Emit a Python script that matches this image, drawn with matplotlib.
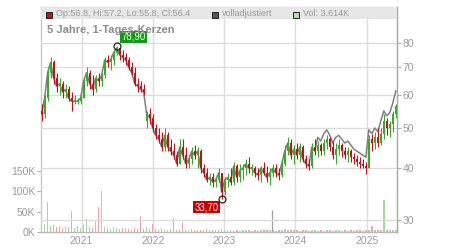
import matplotlib
matplotlib.use('Agg')
import matplotlib.pyplot as plt
import matplotlib.dates as mdates
from matplotlib.patches import Rectangle
from matplotlib.ticker import FixedLocator, FixedFormatter, NullLocator
import numpy as np
import pandas as pd

plt.rcParams['font.family'] = ['Liberation Sans', 'DejaVu Sans']

# ---------------- data ----------------
start_date = '2020-06-10'
end_date = '2025-05-30'
xlim_dates = ['2020-06-07', '2025-06-05']

opens = [55, 54, 59, 68, 72, 66, 63, 64, 61, 62,
         59, 58, 58, 58, 59, 65, 68, 64, 62, 66,
         65, 67, 73, 72, 73, 76, 78, 75, 74, 73,
         70, 68, 64, 63, 62, 52, 54, 53, 50, 48,
         47, 45, 48, 45, 44, 43, 41, 45, 43, 41,
         42, 44, 43, 44, 40, 39, 37.5, 38, 37, 37.5,
         39, 35, 37.5, 38, 37, 40.5, 38, 39.5, 40, 41,
         40, 40, 39, 38.5, 40, 39, 38, 39, 40, 39,
         38.5, 41, 44, 46, 43, 44.5, 43, 45, 42, 41,
         40.5, 45, 44, 45.5, 44, 46, 47, 45, 43, 44.5,
         45.5, 44, 43, 44, 42.5, 42, 41.5, 41, 40.5, 40,
         47, 46, 47.5, 46, 48.5, 52, 50, 51, 54]
closes = [54, 59, 68, 72, 66, 63, 64, 61, 62, 59,
          58, 58, 58, 59, 65, 68, 64, 62, 66, 65,
          67, 73, 72, 73, 76, 78, 75, 74, 73, 70,
          68, 64, 63, 62, 61, 54, 53, 50, 48, 47,
          45, 48, 45, 44, 43, 41, 45, 43, 41, 42,
          44, 43, 44, 40, 39, 37.5, 38, 37, 37.5, 39,
          35, 37.5, 38, 37, 40.5, 38, 39.5, 40, 41, 40,
          40, 39, 38.5, 40, 39, 38, 39, 40, 39, 38.5,
          41, 44, 46, 43, 44.5, 43, 45, 42, 41, 40.5,
          45, 44, 45.5, 44, 46, 47, 45, 43, 44.5, 45.5,
          44, 43, 44, 42.5, 42, 41.5, 41, 40.5, 40, 47,
          46, 47.5, 46, 48.5, 52, 50, 51, 54, 56.4]
highs = [57, 60, 70, 74, 73, 68, 66, 65, 64, 63,
         61, 60, 59, 60, 66, 70, 69, 67, 67, 68,
         68, 74, 75, 75, 77, 78.9, 78, 77, 76, 74,
         72, 70, 66, 65, 64, 55, 56, 54, 51, 50,
         49, 50, 49, 47, 46, 44, 47, 47, 45, 43,
         45, 45.5, 45, 44.5, 41, 40, 39, 39, 38, 40,
         39, 38, 39, 40, 41.5, 41, 41, 41, 42, 42.5,
         41, 40.5, 40, 40.5, 41.5, 40.5, 40, 41, 41, 40,
         42, 45.5, 47.5, 47, 45.5, 46, 46, 45.5, 43, 42,
         46, 47, 46.5, 46, 47, 48, 47.5, 46.5, 46, 47,
         46, 45, 45, 44.5, 43.5, 43, 42.5, 42, 41.5, 48,
         48.5, 49, 50, 50, 54, 53, 52, 55, 57.2]
lows = [52, 53, 58, 66, 64, 61, 60, 59, 59, 58,
        55, 57, 57, 57, 59, 63, 62, 60, 61, 63,
        63, 66, 70, 69, 71, 75, 73, 72, 71, 69,
        67, 63, 61, 61, 60, 50, 51, 49, 47, 46,
        44, 44, 44, 43, 42, 40.5, 41, 42, 40, 40,
        41, 42, 40, 39, 38, 37, 36.5, 36, 36, 37,
        33.7, 34.5, 36, 36.5, 36.5, 37, 37, 37.5, 38.5, 39,
        38.5, 38, 37.5, 37, 38.5, 37, 36.5, 38, 38, 37.5,
        38, 40.5, 43, 42, 41, 42, 41.5, 41.5, 40, 39.5,
        40, 43, 42.5, 43, 43, 44.5, 44, 42, 41, 43,
        42.5, 42, 41.5, 41.5, 41, 40.5, 40, 40, 38.7, 40,
        44, 44.5, 45, 45.5, 47, 48, 47.5, 49, 53]
# adjusted close ("volladjustiert"): same as close early, higher in the last part
adj_tail = [47.5, 46.5, 48.5, 49.5, 48, 46, 47.5, 48, 47, 46,
            46.5, 45.5, 44.5, 44, 43.5, 43, 42.5, 49.5, 48.5, 50,
            49, 52, 55, 53.5, 54.5, 57.5, 61.5]
volume_k = [12, 20, 75, 15, 18, 12, 14, 10, 16, 12,
            52, 10, 14, 9, 18, 32, 12, 10, 27, 62,
            100, 12, 10, 8, 12, 9, 8, 10, 7, 8,
            6, 9, 7, 40, 8, 12, 8, 20, 8, 6,
            9, 7, 5, 7, 35, 6, 8, 25, 6, 5,
            7, 6, 5, 6, 5, 7, 4, 6, 5, 4,
            8, 5, 4, 6, 5, 4, 3, 5, 4, 6,
            3, 4, 3, 4, 5, 4, 6, 4, 3, 5,
            4, 7, 5, 6, 4, 5, 3, 4, 5, 3,
            4, 5, 3, 4, 3, 5, 4, 3, 5, 4,
            3, 4, 3, 4, 3, 5, 4, 3, 6, 5,
            15, 6, 5, 4, 80, 6, 5, 4, 4]
event_date = '2023-09-05'
event_vol_k = 54

price_ticks = [30, 40, 50, 60, 70, 80]
vol_ticks = [0, 50, 100, 150]
vol_tick_labels = ['0K', '50K', '100K', '150K']
year_ticks = ['2021-01-01', '2022-01-01', '2023-01-01', '2024-01-01', '2025-01-01']
year_labels = ['2021', '2022', '2023', '2024', '2025']

title = '5 Jahre, 1-Tages-Kerzen'
legend_ohlc = 'Op:56.8, Hi:57.2, Lo:55.8, Cl:56.4'
legend_adj = 'volladjustiert'
legend_vol = 'Vol: 3.614K'

# ---------------- styling ----------------
GREEN = '#3aa82a'
RED = '#c01218'
VGREEN = '#a5d99c'
VRED = '#f2a3ab'
GRID = '#dcdcdc'
TXT = '#9a9a9a'

W, H = 450, 250
L, R, B, T = 41, 397, 232, 7

fig = plt.figure(figsize=(W / 100, H / 100), dpi=100)
ax_v = fig.add_axes([L / W, 1 - B / H, (R - L) / W, (B - T) / H])
ax_p = ax_v.twinx()

dates = pd.date_range(start_date, end_date, periods=len(closes))
x = mdates.date2num(dates)
o = np.array(opens, float)
c = np.array(closes, float)
hi = np.array(highs, float)
lo = np.array(lows, float)
up = c >= o
cols = np.where(up, GREEN, RED)
vcols = np.where(up, VGREEN, VRED)

# volume
ax_v.bar(x, volume_k, width=8, color=vcols, linewidth=0, zorder=2)
ev = mdates.date2num(pd.Timestamp(event_date))
ax_v.vlines([ev], 0, [event_vol_k], color='#a0a0a0', lw=0.9, zorder=2)
ax_v.set_ylim(0, (B - T) / (20.3 / 50))
ax_v.set_xlim(mdates.date2num(pd.to_datetime(xlim_dates)))
ax_v.yaxis.set_major_locator(FixedLocator(vol_ticks))
ax_v.yaxis.set_major_formatter(FixedFormatter(vol_tick_labels))
ax_v.set_xticks(mdates.date2num(pd.to_datetime(year_ticks)))
ax_v.set_xticklabels(year_labels)
ax_v.tick_params(axis='y', length=3, width=0.8, color='#b0b0b0', labelsize=7.5,
                 labelcolor=TXT, pad=1)
ax_v.tick_params(axis='x', length=0, labelsize=7.5, labelcolor=TXT, pad=3)
ax_v.grid(axis='x', color=GRID, lw=1)
ax_v.set_axisbelow(True)
for s, col in [('left', '#c8c8c8'), ('top', '#c8c8c8'), ('bottom', '#b8b8b8'), ('right', '#aaaaaa')]:
    ax_v.spines[s].set_color(col)
    ax_v.spines[s].set_linewidth(1)

# price
ax_p.set_yscale('log')
ax_p.set_ylim(30 * np.exp(-(B - 220) / 180), 30 * np.exp((220 - T) / 180))
ax_p.yaxis.set_major_locator(FixedLocator(price_ticks))
ax_p.yaxis.set_major_formatter(FixedFormatter([str(t) for t in price_ticks]))
ax_p.yaxis.set_minor_locator(NullLocator())
ax_p.tick_params(axis='y', which='major', length=3, width=0.8, color='#b0b0b0',
                 labelsize=7.5, labelcolor=TXT, pad=1)
ax_p.grid(axis='y', color=GRID, lw=1)
ax_p.set_axisbelow(True)
for s in ['left', 'top', 'bottom']:
    ax_p.spines[s].set_visible(False)
ax_p.spines['right'].set_color('#aaaaaa')

adj = list(closes[:len(closes) - len(adj_tail)]) + list(adj_tail)
ax_p.plot(x, adj, color='#808080', lw=1.1, zorder=2)
ax_p.vlines(x, lo, hi, colors=cols, lw=0.8, zorder=3)
body_bottom = np.minimum(o, c)
body_h = np.maximum(np.abs(c - o), 0.3)
ax_p.bar(x, body_h, bottom=body_bottom, width=11, color=cols, linewidth=0, zorder=3)

ihi = int(np.argmax(hi))
ilo = int(np.argmin(lo))
ax_p.plot([x[ihi]], [hi[ihi]], marker='o', ms=5, mfc='none', mec='#222222', mew=0.9, zorder=6)
ax_p.plot([x[ilo]], [lo[ilo]], marker='o', ms=5, mfc='none', mec='#222222', mew=0.9, zorder=6)
ax_p.annotate(f'{hi[ihi]:.2f}'.replace('.', ','), xy=(x[ihi], hi[ihi]), xytext=(5, 9),
              textcoords='offset pixels', ha='left', va='center', color='white', fontsize=7,
              bbox=dict(boxstyle='square,pad=0.12', fc='#139a13', ec='none'), zorder=7)
ax_p.annotate(f'{lo[ilo]:.2f}'.replace('.', ','), xy=(x[ilo], lo[ilo]), xytext=(-3, -8),
              textcoords='offset pixels', ha='right', va='center', color='white', fontsize=7,
              bbox=dict(boxstyle='square,pad=0.12', fc='#cc0000', ec='none'), zorder=7)

# legend bar
ax_p.add_patch(Rectangle((0, 1 - 12 / (B - T)), 1, 12 / (B - T), transform=ax_p.transAxes,
                         fc='#e6e6e6', ec='none', zorder=8, clip_on=False))

def fx(px):
    return px / W

def fy(py):
    return 1 - py / H

sq = 6
for px, fc, label in [(46, RED, legend_ohlc), (212, '#555555', legend_adj), (293, '#b5ddb0', legend_vol)]:
    fig.patches.append(Rectangle((fx(px), fy(17.5)), sq / W, sq / H, transform=fig.transFigure,
                                 fc=fc, ec='#222222', lw=0.7, zorder=10))
    fig.text(fx(px + 10), fy(13.5), label, fontsize=6.5, color=TXT, ha='left', va='center', zorder=11)

fig.text(fx(47), fy(30), title, fontsize=8, fontweight='bold', color='#8c8c8c', ha='left', va='center')

fig.savefig('out.png', dpi=100)
